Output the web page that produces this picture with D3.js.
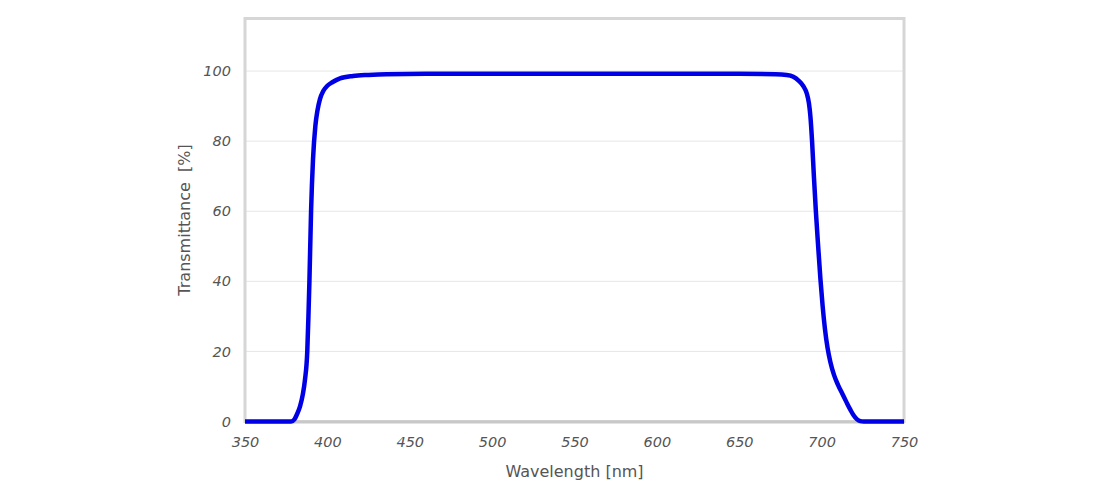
<!DOCTYPE html>
<html>
<head>
<meta charset="utf-8">
<script src="https://cdn.jsdelivr.net/npm/d3@7"></script>
<style>
  body { margin: 0; background: #fff; }
  text { font-family: "DejaVu Sans", Verdana, sans-serif; fill: #555; }
</style>
</head>
<body>
<div id="chart"></div>
<script>
// wavelength [nm] and transmittance [%]
var wavelength = [350, 370, 378, 380, 381.5, 383.4, 385, 386.4, 387.8, 388.5, 389.1, 390.1, 391.3, 392.7, 394, 395.5, 397.5, 400, 403, 407.7, 415.6, 425, 436, 460, 500, 550, 600, 650, 672, 678.8, 682.8, 686, 688.9, 691, 692.3, 693.2, 694.2, 695.3, 696.5, 697.9, 699.3, 700.6, 702, 703.6, 705.3, 707.5, 710, 712.5, 715, 717.5, 719.5, 721.5, 723.5, 725.5, 750];
var transmittance = [0, 0, 0, 0.6, 2, 4.3, 7.5, 11.9, 20, 30, 40, 60, 75, 84.3, 88.8, 92, 94.3, 95.8, 96.8, 97.9, 98.6, 98.9, 99.1, 99.2, 99.2, 99.2, 99.2, 99.2, 99.1, 98.9, 98.4, 97.3, 95.7, 93.6, 90.8, 87, 80, 70, 60, 50, 40.5, 33, 26.5, 21, 17, 13.3, 10.4, 8, 5.6, 3.3, 1.7, 0.6, 0.1, 0, 0];
var xTicks = [350, 400, 450, 500, 550, 600, 650, 700, 750];
var yTicks = [0, 20, 40, 60, 80, 100];

var data = wavelength.map(function(w, i) { return {w: w, t: transmittance[i]}; });

var margin = {top: 18.5, right: 196, bottom: 78.5, left: 245},
    width = 1100 - margin.left - margin.right,
    height = 500 - margin.top - margin.bottom;

var svg = d3.select("#chart")
  .append("svg")
    .attr("width", 1100)
    .attr("height", 500)
  .append("g")
    .attr("transform", "translate(" + margin.left + "," + margin.top + ")");

var x = d3.scaleLinear().domain([350, 750]).range([0, width]);
var y = d3.scaleLinear().domain([0, 115]).range([height, 0]);

// gridlines
svg.append("g")
  .selectAll("line")
  .data(yTicks.filter(function(d) { return d > 0; }))
  .enter().append("line")
    .attr("x1", 0)
    .attr("x2", width)
    .attr("y1", function(d) { return y(d); })
    .attr("y2", function(d) { return y(d); })
    .attr("stroke", "#e6e6e6")
    .attr("stroke-width", 1);

// frame
svg.append("rect")
  .attr("x", 0)
  .attr("y", 0)
  .attr("width", width)
  .attr("height", height)
  .attr("fill", "none")
  .attr("stroke", "#d6d6d6")
  .attr("stroke-width", 3);

// X axis
var xAxis = svg.append("g")
  .attr("transform", "translate(0," + height + ")")
  .call(d3.axisBottom(x).tickValues(xTicks).tickSize(0).tickPadding(15));
xAxis.select(".domain").attr("stroke", "#c8c8c8").attr("stroke-width", 3);
xAxis.selectAll("text")
  .style("font-family", "DejaVu Sans, Verdana, sans-serif")
  .style("font-style", "italic")
  .style("font-size", "14.5px")
  .attr("fill", "#555");

// Y axis
var yAxis = svg.append("g")
  .call(d3.axisLeft(y).tickValues(yTicks).tickSize(0).tickPadding(14));
yAxis.select(".domain").remove();
yAxis.selectAll("text")
  .style("font-family", "DejaVu Sans, Verdana, sans-serif")
  .style("font-style", "italic")
  .style("font-size", "14.5px")
  .attr("fill", "#555");

// axis titles
svg.append("text")
  .attr("x", width / 2)
  .attr("y", height + 55)
  .attr("text-anchor", "middle")
  .style("font-size", "16px")
  .text("Wavelength [nm]");

svg.append("text")
  .attr("transform", "rotate(-90)")
  .attr("x", -height / 2)
  .attr("y", -55)
  .attr("text-anchor", "middle")
  .style("font-size", "16px")
  .style("white-space", "pre")
  .text("Transmittance  [%]");

// curve
svg.append("path")
  .datum(data)
  .attr("fill", "none")
  .attr("stroke", "#0000e6")
  .attr("stroke-width", 4.5)
  .attr("stroke-linejoin", "round")
  .attr("d", d3.line()
    .curve(d3.curveMonotoneX)
    .x(function(d) { return x(d.w); })
    .y(function(d) { return y(d.t); }));
</script>
</body>
</html>
